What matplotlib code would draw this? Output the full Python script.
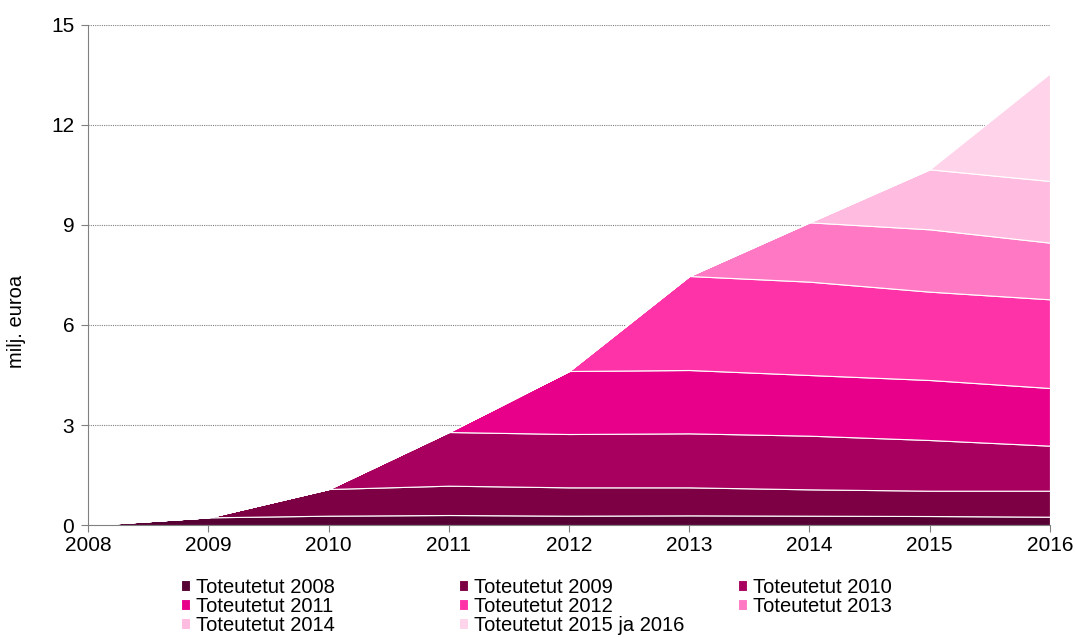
import numpy as np
import matplotlib.pyplot as plt

plt.rcParams['font.family'] = ['Liberation Sans', 'DejaVu Sans']

years = [2008, 2009, 2010, 2011, 2012, 2013, 2014, 2015, 2016]

labels = ['Toteutetut 2008', 'Toteutetut 2009', 'Toteutetut 2010',
          'Toteutetut 2011', 'Toteutetut 2012', 'Toteutetut 2013',
          'Toteutetut 2014', 'Toteutetut 2015 ja 2016']

# milj. euroa per vuosi, arvot luettu kuvasta
t2008 = [0, 0.23, 0.28, 0.30, 0.28, 0.29, 0.28, 0.27, 0.25]
t2009 = [0, 0, 0.80, 0.88, 0.85, 0.84, 0.79, 0.76, 0.78]
t2010 = [0, 0, 0, 1.61, 1.60, 1.62, 1.61, 1.52, 1.35]
t2011 = [0, 0, 0, 0, 1.89, 1.90, 1.82, 1.80, 1.73]
t2012 = [0, 0, 0, 0, 0, 2.82, 2.80, 2.65, 2.66]
t2013 = [0, 0, 0, 0, 0, 0, 1.78, 1.87, 1.70]
t2014 = [0, 0, 0, 0, 0, 0, 0, 1.80, 1.85]
t2015_16 = [0, 0, 0, 0, 0, 0, 0, 0, 3.23]

colors = ['#570033', '#7d0045', '#a8005f', '#e8008a',
          '#ff33a8', '#ff78c3', '#ffbbe0', '#ffd3ea']

series = [t2008, t2009, t2010, t2011, t2012, t2013, t2014, t2015_16]

fs = 14.5

fig = plt.figure(figsize=(10.76, 6.37), dpi=100)
ax = fig.add_axes([0.0818, 0.1758, 0.894, 0.785])

polys = ax.stackplot(years, *series, colors=colors, labels=labels,
                     edgecolor='white', linewidth=0.8, zorder=2)

ax.set_xlim(2008, 2016)
ax.set_ylim(0, 15)
ax.set_yticks([0, 3, 6, 9, 12, 15])
ax.set_xticks(years)
ax.yaxis.grid(True, linestyle=(0, (1, 1)), color='#808080', linewidth=0.8, zorder=1)
ax.set_axisbelow(True)

for s in ['top', 'right']:
    ax.spines[s].set_visible(False)
for s in ['left', 'bottom']:
    ax.spines[s].set_color('#808080')
ax.tick_params(axis='both', colors='#808080', labelcolor='black',
               labelsize=15, length=5, direction='out')
ax.tick_params(axis='x', pad=3)
ax.tick_params(axis='y', pad=5)
ax.set_ylabel('milj. euroa', fontsize=fs)
ax.yaxis.set_label_coords(-0.064, 0.408)

# legend: kolme kiinteälevyistä saraketta, rivi kerrallaan
cols = [[0, 3, 6], [1, 4, 7], [2, 5]]
xpos = [0.168, 0.4266, 0.686]
for idx, x in zip(cols, xpos):
    fig.legend([polys[i] for i in idx], [labels[i] for i in idx],
               loc='upper left', bbox_to_anchor=(x, 0.093), ncol=1,
               frameon=False, fontsize=fs, handlelength=0.45, handleheight=0.45,
               handletextpad=0.3, labelspacing=0.0,
               borderaxespad=0, borderpad=0)

fig.savefig('out.png', dpi=100)
